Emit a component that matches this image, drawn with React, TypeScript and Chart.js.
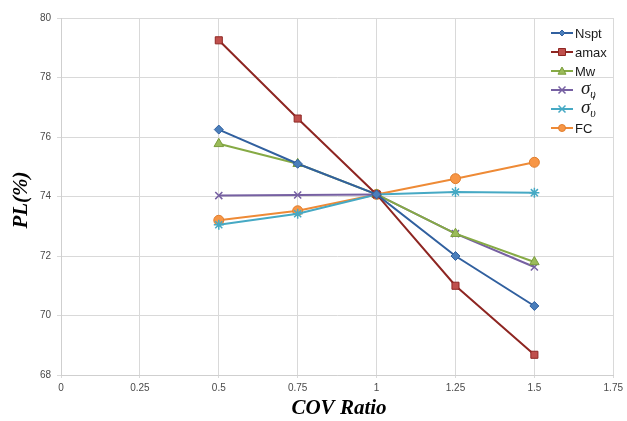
import React, { useEffect, useRef } from "react";
import { Chart, registerables } from "chart.js";

Chart.register(...registerables);

const covRatio = [0.5, 0.75, 1, 1.25, 1.5];
const nspt = [76.25, 75.1, 74.07, 72.0, 70.32];
const amax = [79.25, 76.62, 74.07, 71.0, 68.68];
const mw = [75.77, 75.1, 74.07, 72.75, 71.8];
const sigmaV = [74.03, 74.05, 74.07, 72.75, 71.63];
const sigmaVPrime = [73.05, 73.42, 74.07, 74.15, 74.13];
const fc = [73.2, 73.52, 74.07, 74.6, 75.15];

const xTicks = [0, 0.25, 0.5, 0.75, 1, 1.25, 1.5, 1.75];
const yTicks = [68, 70, 72, 74, 76, 78, 80];

type SeriesDef = {
  label: string;
  data: number[];
  line: string;
  fill: string;
  border: string;
  style: string;
  radius: number;
  greek?: "sv" | "svp";
};

const series: SeriesDef[] = [
  { label: "Nspt", data: nspt, line: "#31609F", fill: "#4A7EBB", border: "#31609F", style: "rectRot", radius: 4.5 },
  { label: "amax", data: amax, line: "#8E2622", fill: "#C0504D", border: "#8E2622", style: "rect", radius: 5 },
  { label: "Mw", data: mw, line: "#86AA45", fill: "#9BBB59", border: "#7A9D3C", style: "triangle", radius: 5.5 },
  { label: "sv", data: sigmaV, line: "#7660A2", fill: "#8064A2", border: "#7660A2", style: "crossRot", radius: 5, greek: "sv" },
  { label: "svp", data: sigmaVPrime, line: "#46A9C4", fill: "#4BACC6", border: "#46A9C4", style: "star", radius: 5, greek: "svp" },
  { label: "FC", data: fc, line: "#EE8A36", fill: "#F79646", border: "#E07E2E", style: "circle", radius: 5 },
];

function drawMarker(ctx: CanvasRenderingContext2D, style: string, x: number, y: number, r: number, fill: string, border: string) {
  ctx.save();
  ctx.fillStyle = fill;
  ctx.strokeStyle = border;
  ctx.lineWidth = 1;
  ctx.beginPath();
  if (style === "rect") {
    ctx.rect(x - r, y - r, 2 * r, 2 * r);
    ctx.fill();
    ctx.stroke();
  } else if (style === "rectRot") {
    ctx.moveTo(x, y - r);
    ctx.lineTo(x + r, y);
    ctx.lineTo(x, y + r);
    ctx.lineTo(x - r, y);
    ctx.closePath();
    ctx.fill();
    ctx.stroke();
  } else if (style === "triangle") {
    ctx.moveTo(x, y - r);
    ctx.lineTo(x + r, y + r * 0.8);
    ctx.lineTo(x - r, y + r * 0.8);
    ctx.closePath();
    ctx.fill();
    ctx.stroke();
  } else if (style === "circle") {
    ctx.arc(x, y, r, 0, Math.PI * 2);
    ctx.fill();
    ctx.stroke();
  } else if (style === "crossRot") {
    ctx.lineWidth = 1.5;
    ctx.moveTo(x - r, y - r);
    ctx.lineTo(x + r, y + r);
    ctx.moveTo(x - r, y + r);
    ctx.lineTo(x + r, y - r);
    ctx.stroke();
  } else if (style === "star") {
    ctx.lineWidth = 1.5;
    ctx.moveTo(x - r, y - r);
    ctx.lineTo(x + r, y + r);
    ctx.moveTo(x - r, y + r);
    ctx.lineTo(x + r, y - r);
    ctx.moveTo(x - r, y);
    ctx.lineTo(x + r, y);
    ctx.stroke();
  }
  ctx.restore();
}

const overlayPlugin = {
  id: "overlay",
  afterDraw(chart: any) {
    const ctx = chart.ctx as CanvasRenderingContext2D;
    ctx.save();
    // axis titles
    ctx.fillStyle = "#000";
    ctx.font = "bold italic 21px 'Liberation Serif', 'Times New Roman', serif";
    ctx.textAlign = "center";
    ctx.textBaseline = "middle";
    ctx.fillText("COV Ratio", 339, 409);
    ctx.save();
    ctx.translate(22, 200);
    ctx.rotate(-Math.PI / 2);
    ctx.fillText("PL(%)", 0, 0);
    ctx.restore();

    // legend
    const x0 = 551;
    const x1 = 573;
    const rows = [33, 52, 71, 90, 109, 128];
    series.forEach((s, i) => {
      const y = rows[i];
      ctx.strokeStyle = s.line;
      ctx.lineWidth = 2;
      ctx.beginPath();
      ctx.moveTo(x0, y);
      ctx.lineTo(x1, y);
      ctx.stroke();
      const r = Math.max(3, s.radius - 1.5);
      drawMarker(ctx, s.style, (x0 + x1) / 2, y, r, s.fill, s.border);
      ctx.fillStyle = "#1a1a1a";
      ctx.textAlign = "left";
      ctx.textBaseline = "middle";
      if (!s.greek) {
        ctx.font = "13px 'Liberation Sans', Arial, sans-serif";
        ctx.fillText(s.label, x1 + 2, y + 1);
      } else {
        ctx.font = "italic 19px 'Liberation Serif', 'Times New Roman', serif";
        ctx.fillText("σ", x1 + 8, y - 1);
        const w = ctx.measureText("σ").width;
        ctx.font = "italic 12px 'Liberation Serif', 'Times New Roman', serif";
        ctx.fillText("υ", x1 + 8 + w, y + 5);
        if (s.greek === "svp") {
          ctx.font = "italic 16px 'Liberation Serif', 'Times New Roman', serif";
          ctx.fillText("′", x1 + 8 + w + 1, y - 6);
        }
      }
    });
    ctx.restore();
  },
};

export default function App() {
  const ref = useRef<HTMLCanvasElement>(null);
  useEffect(() => {
    document.body.style.margin = "0";
    document.body.style.background = "#fff";
    const chart = new Chart(ref.current!, {
      type: "line",
      data: {
        datasets: series.map((s) => ({
          label: s.label,
          data: covRatio.map((x, i) => ({ x, y: s.data[i] })),
          borderColor: s.line,
          backgroundColor: s.fill,
          pointBorderColor: s.border,
          pointBackgroundColor: s.fill,
          pointStyle: s.style as any,
          pointRadius: s.radius,
          pointBorderWidth: s.style === "crossRot" || s.style === "star" ? 1.5 : 1,
          borderWidth: 2,
          tension: 0,
          fill: false,
        })),
      },
      options: {
        animation: false,
        responsive: false,
        maintainAspectRatio: false,
        layout: { padding: { top: 18, right: 11, left: 0, bottom: 0 } },
        plugins: { legend: { display: false }, tooltip: { enabled: false } },
        scales: {
          x: {
            type: "linear",
            min: 0,
            max: 1.75,
            afterBuildTicks: (axis: any) => {
              axis.ticks = xTicks.map((v) => ({ value: v }));
            },
            afterFit: (axis: any) => {
              axis.height = 46;
            },
            ticks: {
              color: "#4a4a4a",
              font: { size: 10, family: "'Liberation Sans', Arial, sans-serif" },
              padding: 4,
              maxRotation: 0,
              callback: (v: any) => String(v),
            },
            grid: { color: "#d9d9d9", lineWidth: 1, tickLength: 3 },
            border: { color: "#cfcfcf", width: 1 },
          },
          y: {
            type: "linear",
            min: 68,
            max: 80,
            afterBuildTicks: (axis: any) => {
              axis.ticks = yTicks.map((v) => ({ value: v }));
            },
            afterFit: (axis: any) => {
              axis.width = 61;
            },
            ticks: {
              color: "#4a4a4a",
              font: { size: 10, family: "'Liberation Sans', Arial, sans-serif" },
              padding: 6,
            },
            grid: { color: "#d9d9d9", lineWidth: 1, tickLength: 4 },
            border: { color: "#cfcfcf", width: 1 },
          },
        },
      },
      plugins: [overlayPlugin],
    });
    return () => chart.destroy();
  }, []);
  return <canvas ref={ref} width={627} height={421} style={{ display: "block" }} />;
}
